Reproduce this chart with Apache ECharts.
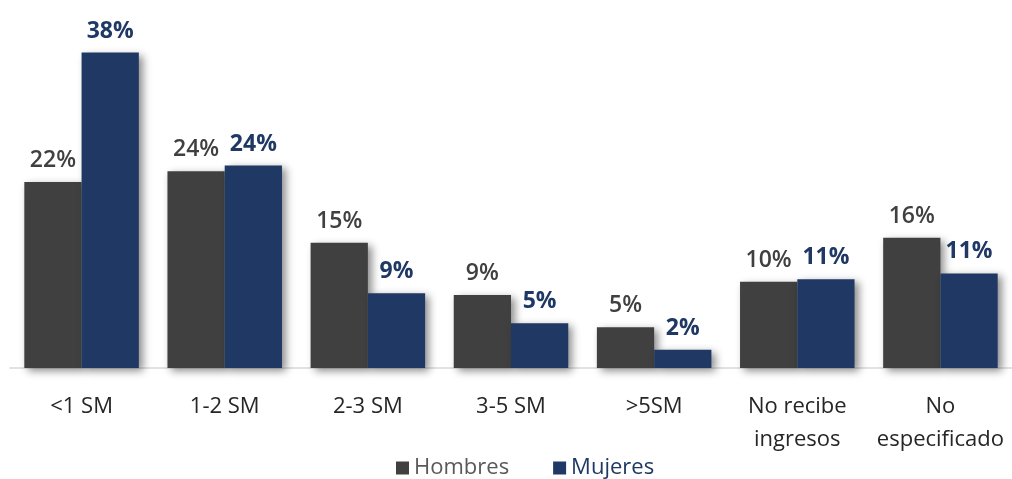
<!DOCTYPE html>
<html>
<head>
<meta charset="utf-8">
<script src="https://cdn.jsdelivr.net/npm/echarts@6/dist/echarts.min.js"></script>
<style>
  html, body { margin: 0; padding: 0; background: #fff; }
  #chart { width: 1012px; height: 479px; }
</style>
</head>
<body>
<div id="chart"></div>
<script>
// categorías de ingreso y porcentajes
const categories = ['<1 SM', '1-2 SM', '2-3 SM', '3-5 SM', '>5SM', 'No recibe\ningresos', 'No\nespecificado']
const hombres = [22.4, 23.7, 15.1, 8.8, 4.9, 10.4, 15.7]
const mujeres = [38.0, 24.4, 9.0, 5.4, 2.2, 10.7, 11.4]

const GRAY = '#404040'
const NAVY = '#1f3864'
const FONT = '"Open Sans", Lato, sans-serif'

const shadow = {
  shadowBlur: 8,
  shadowOffsetX: 4,
  shadowOffsetY: 3,
  shadowColor: 'rgba(0,0,0,0.45)'
}

function pct(p) { return Math.round(p.value) + '%' }

const chart = echarts.init(document.getElementById('chart'))
chart.setOption({
  animation: false,
  textStyle: { fontFamily: FONT },
  grid: { left: 10, right: -2, top: 36, bottom: 111 },
  legend: {
    left: 391,
    top: 452,
    itemWidth: 13,
    itemHeight: 13,
    itemGap: 44,
    icon: 'rect',
    textStyle: { fontSize: 22, fontFamily: FONT },
    data: [
      { name: 'Hombres', textStyle: { color: '#595959' } },
      { name: 'Mujeres', textStyle: { color: NAVY } }
    ]
  },
  xAxis: {
    type: 'category',
    data: categories,
    axisLine: { lineStyle: { color: '#d9d9d9', width: 1.5 } },
    axisTick: { show: false },
    axisLabel: {
      color: '#262626',
      fontSize: 22,
      fontFamily: FONT,
      margin: 22,
      lineHeight: 33,
      interval: 0
    }
  },
  yAxis: {
    type: 'value',
    min: 0,
    max: 40,
    show: false,
    splitLine: { show: false }
  },
  series: [
    {
      name: 'Hombres',
      type: 'bar',
      data: hombres,
      barGap: 0,
      barCategoryGap: '20%',
      itemStyle: Object.assign({ color: GRAY }, shadow),
      label: {
        show: true,
        position: 'top',
        distance: 10,
        formatter: pct,
        color: GRAY,
        fontSize: 23,
        fontWeight: 600,
        fontFamily: FONT
      }
    },
    {
      name: 'Mujeres',
      type: 'bar',
      data: mujeres,
      itemStyle: Object.assign({ color: NAVY }, shadow),
      label: {
        show: true,
        position: 'top',
        distance: 10,
        formatter: pct,
        color: NAVY,
        fontSize: 23,
        fontWeight: 'bold',
        fontFamily: FONT
      }
    }
  ]
})
</script>
</body>
</html>
